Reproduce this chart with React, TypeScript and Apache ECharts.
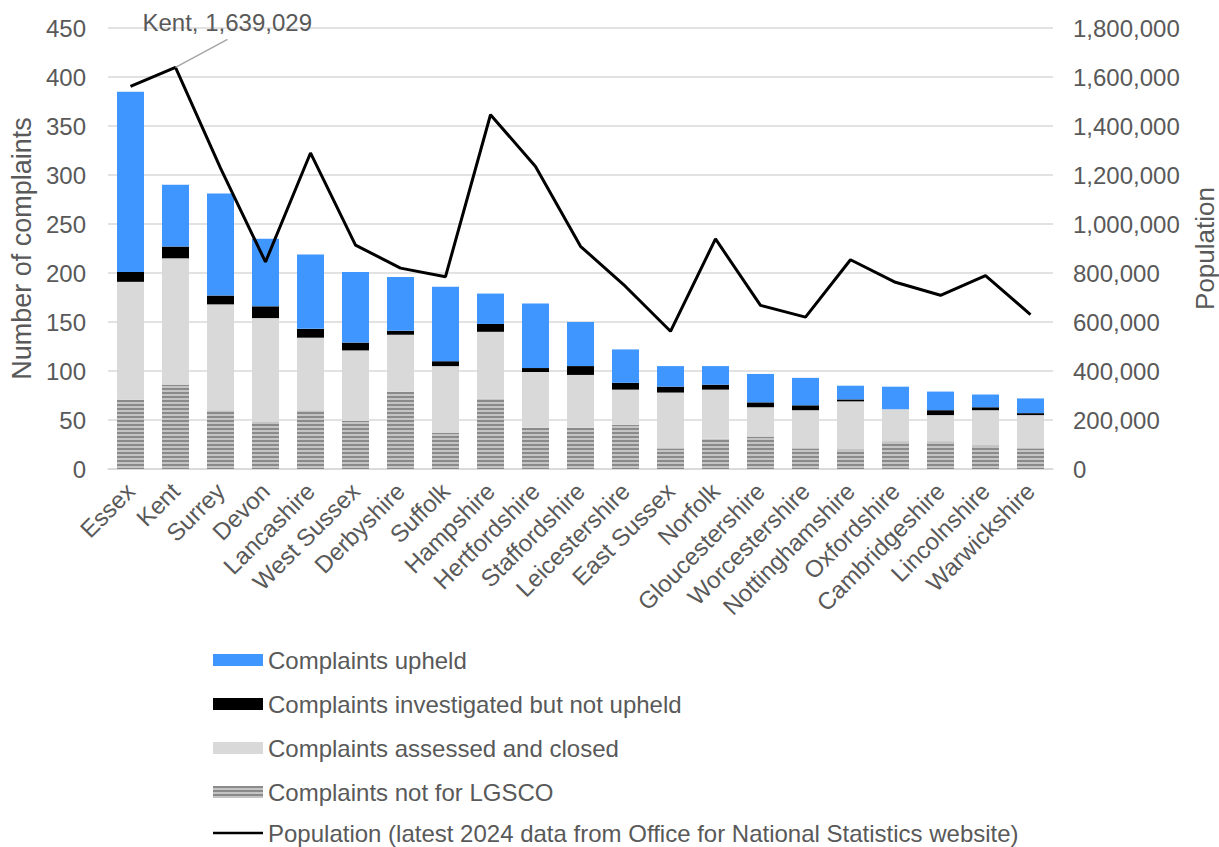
import React, { useEffect, useRef } from "react";
import * as echarts from "echarts";

const categories = [
  "Essex", "Kent", "Surrey", "Devon", "Lancashire", "West Sussex", "Derbyshire",
  "Suffolk", "Hampshire", "Hertfordshire", "Staffordshire", "Leicestershire",
  "East Sussex", "Norfolk", "Gloucestershire", "Worcestershire", "Nottinghamshire",
  "Oxfordshire", "Cambridgeshire", "Lincolnshire", "Warwickshire",
];
const notForLGSCO = [71, 86, 60, 48, 60, 49, 79, 37, 72, 42, 42, 45, 21, 31, 33, 21, 20, 28, 28, 24, 21];
const assessedClosed = [120, 129, 108, 106, 74, 72, 58, 68, 68, 57, 54, 36, 57, 50, 30, 39, 49, 33, 27, 36, 34];
const investigatedNotUpheld = [10, 12, 9, 12, 9, 8, 4, 5, 8, 4, 9, 7, 6, 5, 5, 5, 2, 0, 5, 3, 2];
const upheld = [184, 63, 104, 69, 76, 72, 55, 76, 31, 66, 45, 34, 21, 19, 29, 28, 14, 23, 19, 13, 15];
const population = [
  1562000, 1639029, 1228000, 845000, 1290000, 914000, 820000, 785000, 1446000,
  1235000, 909000, 745000, 562000, 939000, 668000, 620000, 854000, 762000,
  709000, 789000, 630000,
];
const leftTicks = { min: 0, max: 450, interval: 50 };
const rightTicks = { min: 0, max: 1800000, interval: 200000 };
const annotatedIndex = 1;

const seriesNames = [
  "Complaints not for LGSCO",
  "Complaints assessed and closed",
  "Complaints investigated but not upheld",
  "Complaints upheld",
  "Population (latest 2024 data from Office for National Statistics website)",
];

const FONT = "'Liberation Sans', Arial, sans-serif";
const TEXT = "#595959";
const FS = 24;

export default function App() {
  const ref = useRef<HTMLDivElement>(null);
  useEffect(() => {
    if (!ref.current) return;
    const chart = echarts.init(ref.current, null, { renderer: "svg" });
    const fmt = (v: number) => v.toLocaleString("en-GB");
    chart.setOption({
      animation: false,
      textStyle: { fontFamily: FONT, color: TEXT },
      grid: { left: 108, right: 166, top: 28, bottom: 378, containLabel: false, outerBoundsMode: "none" },
      legend: [
        {
          orient: "vertical",
          left: 213,
          top: 648,
          padding: 0,
          itemWidth: 50,
          itemHeight: 12,
          itemGap: 20,
          icon: "rect",
          textStyle: { fontSize: FS, color: TEXT, fontFamily: FONT },
          data: [seriesNames[3], seriesNames[2], seriesNames[1], seriesNames[0]],
        },
        {
          orient: "vertical",
          left: 213,
          top: 821,
          padding: 0,
          itemWidth: 50,
          itemHeight: 2.5,
          icon: "rect",
          textStyle: { fontSize: FS, color: TEXT, fontFamily: FONT },
          data: [seriesNames[4]],
        },
      ],
      xAxis: {
        type: "category",
        data: categories,
        axisLine: { show: true, lineStyle: { color: "#d9d9d9", width: 1.5 } },
        axisTick: { show: false },
        axisLabel: { rotate: 45, fontSize: FS, color: TEXT, fontFamily: FONT, margin: 18, interval: 0 },
      },
      yAxis: [
        {
          type: "value",
          ...leftTicks,
          name: "Number of complaints",
          nameLocation: "middle",
          nameGap: 68,
          nameTextStyle: { fontSize: 27, color: TEXT, fontFamily: FONT },
          axisLabel: { fontSize: FS, color: TEXT, fontFamily: FONT, margin: 22 },
          splitLine: { lineStyle: { color: "#d9d9d9", width: 1.5 } },
          axisLine: { show: false },
          axisTick: { show: false },
        },
        {
          type: "value",
          ...rightTicks,
          position: "right",
          name: "Population",
          nameLocation: "middle",
          nameGap: 139,
          nameTextStyle: { fontSize: 26, color: TEXT, fontFamily: FONT },
          axisLabel: { fontSize: FS, color: TEXT, fontFamily: FONT, margin: 20, formatter: (v: number) => fmt(v) },
          splitLine: { show: false },
          axisLine: { show: false },
          axisTick: { show: false },
        },
      ],
      series: [
        {
          name: seriesNames[0],
          type: "bar",
          stack: "c",
          barWidth: "60%",
          data: notForLGSCO,
          itemStyle: {
            color: "#c4c4c4",
            decal: {
              symbol: "rect",
              symbolSize: 1,
              dashArrayX: [10, 0],
              dashArrayY: [1.5, 1.5],
              color: "#8a8a8a",
              rotation: 0,
            },
          },
        },
        {
          name: seriesNames[1],
          type: "bar",
          stack: "c",
          data: assessedClosed,
          itemStyle: { color: "#d9d9d9" },
        },
        {
          name: seriesNames[2],
          type: "bar",
          stack: "c",
          data: investigatedNotUpheld,
          itemStyle: { color: "#000000" },
        },
        {
          name: seriesNames[3],
          type: "bar",
          stack: "c",
          data: upheld,
          itemStyle: { color: "#4096ff" },
        },
        {
          name: seriesNames[4],
          type: "line",
          yAxisIndex: 1,
          data: population,
          symbol: "none",
          lineStyle: { color: "#000000", width: 3 },
          itemStyle: { color: "#000000" },
        },
      ],
    });
    const p = chart.convertToPixel({ seriesIndex: 4 }, [annotatedIndex, population[annotatedIndex]]) as number[];
    if (p) {
      chart.setOption({
        graphic: [
          {
            type: "line",
            shape: { x1: p[0], y1: p[1], x2: p[0] + 52, y2: p[1] - 28 },
            style: { stroke: "#a6a6a6", lineWidth: 1.5 },
            z: 10,
          },
          {
            type: "text",
            x: p[0] - 33,
            y: p[1] - 45,
            style: {
              text: `${categories[annotatedIndex]}, ${fmt(population[annotatedIndex])}`,
              font: `${FS}px ${FONT}`,
              fill: TEXT,
              textVerticalAlign: "middle",
            },
            z: 10,
          },
        ],
      });
    }
    return () => chart.dispose();
  }, []);
  return (
    <div
      ref={ref}
      style={{ position: "fixed", left: 0, top: 0, width: 1219, height: 847, background: "#fff" }}
    />
  );
}
